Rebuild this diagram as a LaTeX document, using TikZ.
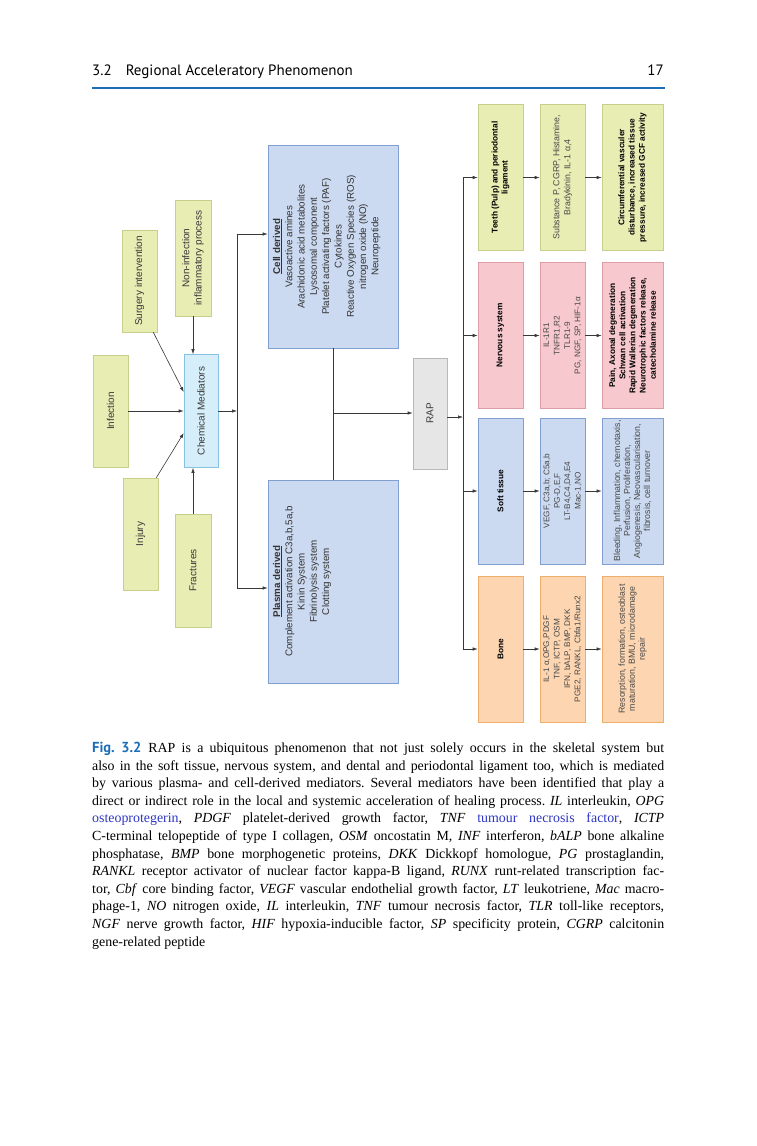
\documentclass[tikz,border=0pt]{standalone}
\usepackage{fontspec}
\setmainfont{Liberation Serif}
\setsansfont{Liberation Sans}
\newfontfamily\headfont{PT Sans}
\usetikzlibrary{arrows.meta,positioning,calc}

\definecolor{olivebox}{HTML}{E8EDB4}
\definecolor{oliveline}{HTML}{C8CF8C}
\definecolor{chemfill}{HTML}{D6EEF9}
\definecolor{chemline}{HTML}{86C3E2}
\definecolor{bluebox}{HTML}{CCDAF1}
\definecolor{blueline}{HTML}{819FD0}
\definecolor{rapfill}{HTML}{E6E6E6}
\definecolor{rapline}{HTML}{B8B8B8}
\definecolor{pinkbox}{HTML}{F7C8CD}
\definecolor{pinkline}{HTML}{DE9CA4}
\definecolor{bonebox}{HTML}{FDD6B1}
\definecolor{boneline}{HTML}{F0AE6C}
\definecolor{headblue}{HTML}{1C6EB8}
\definecolor{linkblue}{HTML}{2E36C2}
\definecolor{wirecol}{HTML}{383838}

\begin{document}
\begin{tikzpicture}[x=1pt,y=-1pt,
    wire/.style={draw=wirecol,line width=.6pt},
    arr/.style={wire,-{Latex[length=5pt,width=3.4pt]}},
    blk/.style={rotate=90,draw,line width=.6pt,inner sep=1pt,align=center,
      font=\sffamily\fontsize{10}{12.3}\selectfont,text=black!78},
    cause/.style={blk,fill=olivebox,draw=oliveline,minimum height=35pt},
    deriv/.style={blk,fill=bluebox,draw=blueline,minimum width=203pt,minimum height=130pt},
    derivtext/.style={rotate=90,anchor=north,align=center,inner sep=0pt,
      font=\sffamily\fontsize{9.8}{12.3}\selectfont,text=black!80},
    site/.style={blk,minimum width=146pt,minimum height=45pt,
      font=\sffamily\bfseries\fontsize{8.3}{10.2}\selectfont,text=black},
    medi/.style={site,font=\sffamily\fontsize{8.2}{10.4}\selectfont,text=black!72},
    effect/.style={site,minimum height=61pt},
    effectlt/.style={effect,font=\sffamily\fontsize{8.8}{10}\selectfont,text=black!72},
    tonolive/.style={fill=olivebox,draw=oliveline},
    tonpink/.style={fill=pinkbox,draw=pinkline},
    tonblue/.style={fill=bluebox,draw=blueline},
    tonbone/.style={fill=bonebox,draw=boneline}
  ]
  \fill[white] (0,0) rectangle (756,1146);
  \useasboundingbox (0,0) rectangle (756,1146);

  % running head
  \node[anchor=base west,inner sep=0pt,font=\headfont\fontsize{15}{18}\selectfont] (runhead) at (92,75)
    {3.2\hspace{14pt}Regional Acceleratory Phenomenon};
  \node[anchor=base east,inner sep=0pt,font=\headfont\fontsize{15}{18}\selectfont] (pageno) at (664,75) {17};
  \draw[headblue,line width=1.6pt] (92,88) -- (665,88);

  % causes
  \node[cause,minimum width=102pt] (surgery) at (139.5,281) {Surgery intervention};
  \node[cause,minimum width=116pt,minimum height=36pt] (noninf) at (193,258) {Non-infection\\inflammatory process};
  \node[cause,minimum width=112pt] (infection) at (110.5,411) {Infection};
  \node[cause,minimum width=112pt] (injury) at (140.5,534) {Injury};
  \node[cause,minimum width=113pt,minimum height=36pt] (fractures) at (193,570.5) {Fractures};
  \node[blk,fill=chemfill,draw=chemline,minimum width=113pt,minimum height=34pt] (chem) at (201,411) {Chemical Mediators};

  \draw[arr] (infection) -- (chem);
  \draw[arr] ($(surgery.south west)+(-4,0)$) -- ($(chem.north)+(0,-19)$);
  \draw[arr] ($(injury.south east)+(-2,0)$) -- ($(chem.north)+(0,22)$);
  \draw[arr] (noninf.west) -- (noninf.west |- chem.east);
  \draw[arr] (fractures.east) -- (fractures.east |- chem.west);

  % mediators
  \node[deriv] (cell) at (333,246.5) {};
  \node[derivtext] (celltext) at ($(cell.north)+(5,0)$)
    {\underline{\textbf{Cell derived}}\\Vasoactive amines\\Arachidonic acid metabolites\\Lysosomal component\\
     Platelet activating factors (PAF)\\Cytokines\\Reactive Oxygen Species (ROS)\\nitrogen oxide (NO)\\Neuropeptide};
  \node[deriv] (plasma) at (333,581.5) {};
  \node[derivtext] (plasmatext) at ($(plasma.north)+(5,0)$)
    {\underline{\textbf{Plasma derived}}\\Complement activation C3a,b,5a,b\\Kinin System\\Fibrinolysis system\\Clotting system};

  \coordinate (split) at (237,411);
  \coordinate (celltap) at (237,234);
  \coordinate (plastap) at (237,588);
  \draw[arr] (chem) -- (split);
  \draw[wire] (celltap) -- (plastap);
  \draw[arr] (celltap) -- (celltap -| cell.north);
  \draw[arr] (plastap) -- (plastap -| plasma.north);

  \node[blk,fill=rapfill,draw=rapline,minimum width=111pt,minimum height=34pt] (rap) at (430,413.5) {RAP};
  \draw[wire] (cell.west) -- (plasma.east);
  \coordinate (join) at (333,413);
  \draw[arr] (join) -- (join -| rap.north);

  % target tissues
  \node[site,tonolive] (teeth) at (500.5,177.5) {Teeth (Pulp) and periodontal\\ligament};
  \node[site,tonpink] (nerve) at (500.5,335.5) {Nervous system};
  \node[site,tonblue] (soft) at (500.5,491) {Soft tissue};
  \node[site,tonbone] (bone) at (500.5,649) {Bone};

  \node[medi,tonolive,font=\sffamily\fontsize{8.8}{11}\selectfont] (teethmed) at (562.5,177.5)
    {Substance P, CGRP, Histamine,\\Bradykinin, IL-1 α,4};
  \node[medi,tonpink] (nervemed) at (562.5,335.5) {IL-1R1\\TNFR1,R2\\TLR1-9\\PG, NGF, SP, HIF-1α};
  \node[medi,tonblue] (softmed) at (562.5,491) {VEGF, C3a,b; C5a,b\\PG-D,E,F\\LT-B4,C4,D4,E4\\Mac-1,NO};
  \node[medi,tonbone] (bonemed) at (562.5,649) {IL-1 α,OPG,PDGF\\TNF, ICTP, OSM\\IFN, bALP, BMP, DKK\\PGE2, RANKL, Cbfa1/Runx2};

  \node[effect,tonolive] (teethfx) at (632.5,177.5)
    {Circumferential vasculer\\disturbance, increased tissue\\pressure, increased GCF activity};
  \node[effect,tonpink] (nervefx) at (632.5,335.5)
    {Pain, Axonal degeneration\\Schwan cell activation\\Rapid Wallerian degeneration\\Neurotrophic factors release,\\catecholamine release};
  \node[effectlt,tonblue] (softfx) at (632.5,491)
    {Bleeding, Inflammation, chemotaxis,\\Perfusion, Proliferation,\\Angiogenesis, Neovascularisation,\\fibrosis, cell turnover};
  \node[effectlt,tonbone] (bonefx) at (632.5,649)
    {Resorption, formation, osteoblast\\maturation, BMU, microdamage\\repair};

  \coordinate (hub) at (463,417);
  \draw[arr] ($(rap.south)+(0,3.5)$) -- (hub);
  \draw[wire] (teeth.north -| hub) -- (bone.north -| hub);
  \draw[arr] (teeth.north -| hub) -- (teeth);
  \draw[arr] (nerve.north -| hub) -- (nerve);
  \draw[arr] (soft.north -| hub) -- (soft);
  \draw[arr] (bone.north -| hub) -- (bone);
  \draw[arr] (teeth) -- (teethmed);
  \draw[arr] (teethmed) -- (teethfx);
  \draw[arr] (nerve) -- (nervemed);
  \draw[arr] (nervemed) -- (nervefx);
  \draw[arr] (soft) -- (softmed);
  \draw[arr] (softmed) -- (softfx);
  \draw[arr] (bone) -- (bonemed);
  \draw[arr] (bonemed) -- (bonefx);

  % caption
  \node[anchor=north west,inner sep=0pt,text width=572pt,align=justify,
    font=\fontsize{13.9}{17.6}\selectfont] (caption) at (92,742)
    {\frenchspacing\tolerance=3000\hyphenpenalty=10000
     {\headfont\bfseries\fontsize{14.5}{17.6}\selectfont\color{headblue}Fig.~3.2}\enspace RAP is a ubiquitous phenomenon that not just solely occurs in the skeletal system but\linebreak
     also in the soft tissue, nervous system, and dental and periodontal ligament too, which is mediated\linebreak
     by various plasma- and cell-derived mediators. Several mediators have been identified that play a\linebreak
     direct or indirect role in the local and systemic acceleration of healing process. \textit{IL} interleukin, \textit{OPG}\linebreak
     \textcolor{linkblue}{osteoprotegerin}, \textit{PDGF} platelet-derived growth factor, \textit{TNF} \textcolor{linkblue}{tumour necrosis factor}, \textit{ICTP}\linebreak
     C-terminal telopeptide of type I collagen, \textit{OSM} oncostatin M, \textit{INF} interferon, \textit{bALP} bone alkaline\linebreak
     phosphatase, \textit{BMP} bone morphogenetic proteins, \textit{DKK} Dickkopf homologue, \textit{PG} prostaglandin,\linebreak
     \textit{RANKL} receptor activator of nuclear factor kappa-B ligand, \textit{RUNX} runt-related transcription fac-\linebreak
     tor, \textit{Cbf} core binding factor, \textit{VEGF} vascular endothelial growth factor, \textit{LT} leukotriene, \textit{Mac} macro-\linebreak
     phage-1, \textit{NO} nitrogen oxide, \textit{IL} interleukin, \textit{TNF} tumour necrosis factor, \textit{TLR} toll-like receptors,\linebreak
     \textit{NGF} nerve growth factor, \textit{HIF} hypoxia-inducible factor, \textit{SP} specificity protein, \textit{CGRP} calcitonin\linebreak
     gene-related peptide};
\end{tikzpicture}
\end{document}
